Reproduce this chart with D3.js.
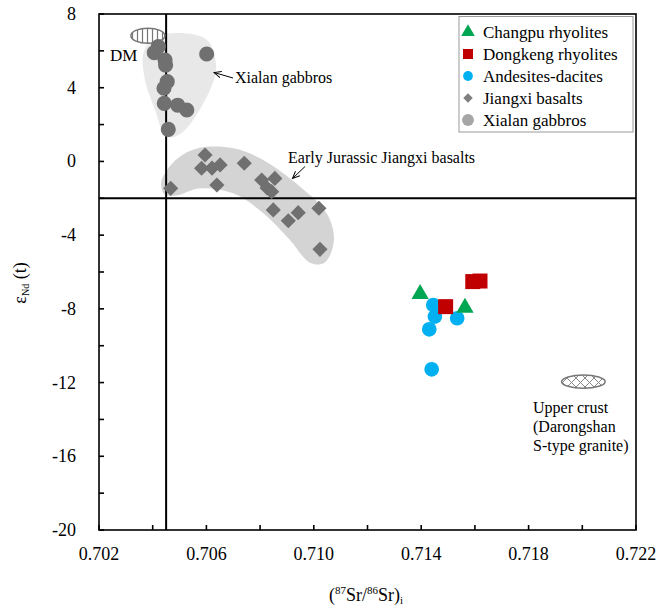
<!DOCTYPE html>
<html>
<head>
<meta charset="utf-8">
<script src="https://cdn.jsdelivr.net/npm/d3@7/dist/d3.min.js"></script>
<style>
  body { margin: 0; background: #fff; }
  svg text { font-family: "Liberation Serif", "DejaVu Serif", serif; }
</style>
</head>
<body>
<svg id="chart" width="660" height="609"></svg>
<script>
// Sr-Nd isotope data: x = (87Sr/86Sr)i, y = eNd(t)
const changpu = [[0.71396, -7.19], [0.71563, -7.94]];
const dongkeng = [[0.71491, -7.88], [0.71592, -6.52], [0.71619, -6.49]];
const andesites = [[0.71445, -7.79], [0.71451, -8.42], [0.71430, -9.11], [0.71534, -8.51], [0.71439, -11.28]];
const jiangxiBasalts = [
  [0.70467, -1.46], [0.70595, 0.35], [0.70582, -0.37], [0.70621, -0.36], [0.70651, -0.19],
  [0.70639, -1.28], [0.70741, -0.10], [0.70806, -1.01], [0.70855, -0.92], [0.70843, -1.64],
  [0.70826, -1.44], [0.70849, -2.63], [0.70905, -3.22], [0.70942, -2.78], [0.71019, -2.54],
  [0.71023, -4.77]
];
const xialanGabbros = [
  [0.70421, 6.23], [0.70406, 5.90], [0.70446, 5.50], [0.70448, 5.23], [0.70454, 4.33],
  [0.70442, 3.97], [0.70443, 3.15], [0.70493, 3.05], [0.70527, 2.79], [0.70458, 1.74],
  [0.70601, 5.83]
];

// Field outlines (data units)
const xialanField = [
  [0.70369, 6.05], [0.70434, 6.86], [0.70600, 6.62], [0.70636, 5.14], [0.70608, 3.71],
  [0.70508, 1.54], [0.70452, 1.34], [0.70409, 2.79], [0.70369, 4.60]
];
const jiangxiField = [
  [0.70432, -1.10], [0.70489, 0.12], [0.70576, 0.74], [0.70700, 0.72], [0.70800, 0.17],
  [0.70949, -1.37], [0.71048, -2.81], [0.71075, -4.26], [0.71040, -5.50], [0.70986, -5.50],
  [0.70911, -4.26], [0.70812, -2.81], [0.70700, -1.73], [0.70576, -1.46], [0.70489, -1.85],
  [0.70444, -1.78]
];
// Reservoirs: centre x, centre y, radius x, radius y
const dmReservoir = { cx: 0.70382, cy: 6.82, rx: 0.000633, ry: 0.41 };
const upperCrust = { cx: 0.72004, cy: -11.95, rx: 0.00081, ry: 0.36 };

const refSr = 0.7045;   // vertical reference line
const refNd = -2;       // horizontal reference line

const xTickLabels = [0.702, 0.706, 0.710, 0.714, 0.718, 0.722];
const xMinorTicks = [0.702, 0.704, 0.706, 0.708, 0.710, 0.712, 0.714, 0.716, 0.718, 0.720, 0.722];
const yTickLabels = [8, 4, 0, -4, -8, -12, -16, -20];
const yMinorTicks = [8, 6, 4, 2, 0, -2, -4, -6, -8, -10, -12, -14, -16, -18, -20];

const legendItems = [
  { label: "Changpu rhyolites", shape: "triangle", color: "#00a651" },
  { label: "Dongkeng rhyolites", shape: "square", color: "#c00000" },
  { label: "Andesites-dacites", shape: "circle", color: "#00b0f0" },
  { label: "Jiangxi basalts", shape: "diamond", color: "#7f7f7f" },
  { label: "Xialan gabbros", shape: "circle", color: "#a6a6a6" }
];

const FONT = "Liberation Serif, DejaVu Serif, serif";
const svg = d3.select("#chart");
const L = 99, R = 636, T = 14, B = 530;

const x = d3.scaleLinear().domain([0.702, 0.722]).range([L, R]);
const y = d3.scaleLinear().domain([-20, 8]).range([B, T]);

function label(sel, px, py, size, txt) {
  return sel.append("text").attr("x", px).attr("y", py).attr("font-family", FONT)
    .attr("font-size", size).text(txt);
}

// Patterns for the reservoir fields
const defs = svg.append("defs");
const vp = defs.append("pattern").attr("id", "vhatch").attr("patternUnits", "userSpaceOnUse")
  .attr("width", 5).attr("height", 5);
vp.append("rect").attr("width", 5).attr("height", 5).attr("fill", "#fff");
vp.append("line").attr("x1", 2.5).attr("x2", 2.5).attr("y1", 0).attr("y2", 5)
  .attr("stroke", "#777").attr("stroke-width", 1.2);
const xp = defs.append("pattern").attr("id", "xhatch").attr("patternUnits", "userSpaceOnUse")
  .attr("width", 9).attr("height", 9);
xp.append("rect").attr("width", 9).attr("height", 9).attr("fill", "#fff");
xp.append("path").attr("d", "M0,0L9,9M9,0L0,9").attr("stroke", "#888").attr("stroke-width", 1);

// Fields
const fieldLine = d3.line().x(d => x(d[0])).y(d => y(d[1])).curve(d3.curveCatmullRomClosed.alpha(0.5));
svg.append("path").attr("d", fieldLine(xialanField)).attr("fill", "#e8e8e8");
svg.append("path").attr("d", fieldLine(jiangxiField)).attr("fill", "#d4d4d4");

// Reference lines
svg.append("line").attr("x1", x(refSr)).attr("x2", x(refSr)).attr("y1", y(8)).attr("y2", y(-20))
  .attr("stroke", "#000").attr("stroke-width", 2);
svg.append("line").attr("x1", x(0.702)).attr("x2", x(0.722)).attr("y1", y(refNd)).attr("y2", y(refNd))
  .attr("stroke", "#000").attr("stroke-width", 2);

// Reservoir ellipses
function reservoir(r, fill) {
  svg.append("ellipse")
    .attr("cx", x(r.cx)).attr("cy", y(r.cy))
    .attr("rx", x(r.cx + r.rx) - x(r.cx)).attr("ry", y(r.cy - r.ry) - y(r.cy))
    .attr("fill", fill).attr("stroke", "#777").attr("stroke-width", 1.5);
}
reservoir(dmReservoir, "url(#vhatch)");
reservoir(upperCrust, "url(#xhatch)");

// Symbols
const sym = {
  triangle: s => d3.symbol().type(d3.symbolTriangle).size(s)(),
  square: s => d3.symbol().type(d3.symbolSquare).size(s)(),
  circle: s => d3.symbol().type(d3.symbolCircle).size(s)(),
  diamond: s => d3.symbol().type(d3.symbolSquare).size(s)()
};

function points(data, shape, size, color, rot) {
  svg.append("g").selectAll("path").data(data).join("path")
    .attr("d", sym[shape](size))
    .attr("transform", d => `translate(${x(d[0])},${y(d[1])})` + (rot ? " rotate(45)" : ""))
    .attr("fill", color);
}
points(xialanGabbros, "circle", 180, "#707070");
points(jiangxiBasalts, "diamond", 115, "#707070", true);
points(andesites, "circle", 170, "#00b0f0");
points(dongkeng, "square", 225, "#c00000");
points(changpu, "triangle", 130, "#00a651");

// Axes frame and ticks
const axisG = svg.append("g");
axisG.append("rect").attr("x", L).attr("y", T).attr("width", R - L).attr("height", B - T)
  .attr("fill", "none").attr("stroke", "#000").attr("stroke-width", 1.6);
axisG.selectAll(".xt").data(xMinorTicks).join("line")
  .attr("x1", d => x(d)).attr("x2", d => x(d)).attr("y1", B).attr("y2", B - 5)
  .attr("stroke", "#000").attr("stroke-width", 1.6);
axisG.selectAll(".yt").data(yMinorTicks).join("line")
  .attr("x1", L).attr("x2", L + 5).attr("y1", d => y(d)).attr("y2", d => y(d))
  .attr("stroke", "#000").attr("stroke-width", 1.6);
axisG.selectAll(".xl").data(xTickLabels).join("text")
  .attr("x", d => x(d)).attr("y", 560).attr("text-anchor", "middle").attr("font-family", FONT)
  .attr("font-size", 18).text(d => d.toFixed(3));
axisG.selectAll(".yl").data(yTickLabels).join("text")
  .attr("x", 76).attr("y", d => y(d) + 6).attr("text-anchor", "end").attr("font-family", FONT)
  .attr("font-size", 18).text(d => d);

// Axis titles
const xt = svg.append("text").attr("x", 366).attr("y", 601).attr("text-anchor", "middle")
  .attr("font-family", FONT).attr("font-size", 18);
xt.append("tspan").text("(");
xt.append("tspan").attr("font-size", 11).attr("dy", -7).text("87");
xt.append("tspan").attr("dy", 7).text("Sr/");
xt.append("tspan").attr("font-size", 11).attr("dy", -7).text("86");
xt.append("tspan").attr("dy", 7).text("Sr)");
xt.append("tspan").attr("font-size", 11).attr("dy", 3).text("i");

const yt = svg.append("text").attr("transform", "translate(26,283) rotate(-90)")
  .attr("text-anchor", "middle").attr("font-family", FONT).attr("font-size", 18);
yt.append("tspan").text("ε");
yt.append("tspan").attr("font-size", 10).attr("dy", 3).text("Nd");
yt.append("tspan").attr("dy", -3).text(" (t)");

// Annotations
label(svg, 110, 61, 17, "DM");
label(svg, 235, 83, 16, "Xialan gabbros");
label(svg, 288, 163, 16, "Early Jurassic Jiangxi basalts");
["Upper crust", "(Darongshan", "S-type granite)"].forEach((t, i) => {
  label(svg, 533, 413 + i * 19, 16, t);
});

defs.append("marker").attr("id", "arr").attr("viewBox", "0 0 10 10").attr("refX", 9).attr("refY", 5)
  .attr("markerWidth", 8).attr("markerHeight", 8).attr("orient", "auto")
  .append("path").attr("d", "M0,1L9,5L0,9").attr("fill", "none").attr("stroke", "#000").attr("stroke-width", 1.2);
svg.append("line").attr("x1", 233).attr("y1", 78).attr("x2", 214).attr("y2", 72.5)
  .attr("stroke", "#000").attr("stroke-width", 1).attr("marker-end", "url(#arr)");
svg.append("line").attr("x1", 305).attr("y1", 166.5).attr("x2", 292.5).attr("y2", 178.5)
  .attr("stroke", "#000").attr("stroke-width", 1).attr("marker-end", "url(#arr)");

// Legend
const lg = svg.append("g");
lg.append("rect").attr("x", 459).attr("y", 16.5).attr("width", 174).attr("height", 115.5)
  .attr("fill", "#fff").attr("stroke", "#999").attr("stroke-width", 1);
const legendSizes = { triangle: 80, square: 100, circle: 75, diamond: 45 };
legendItems.forEach((it, i) => {
  const cy = 32 + i * 22;
  lg.append("path").attr("d", sym[it.shape](it.label === "Xialan gabbros" ? 110 : legendSizes[it.shape]))
    .attr("transform", `translate(468,${cy})` + (it.shape === "diamond" ? " rotate(45)" : ""))
    .attr("fill", it.color);
  label(lg, 483, cy + 5.5, 17, it.label);
});
</script>
</body>
</html>
